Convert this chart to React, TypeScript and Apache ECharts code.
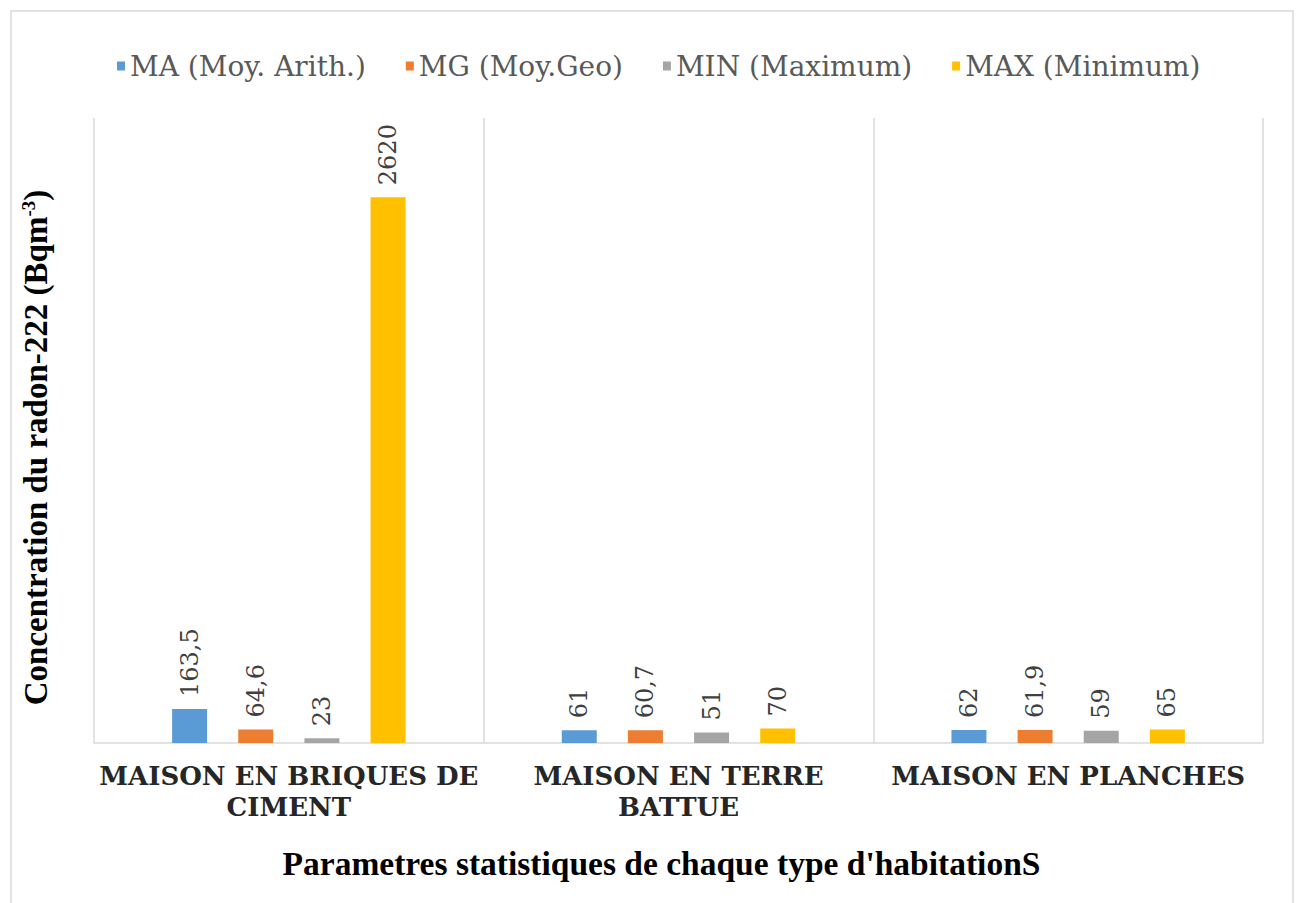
import React, { useEffect, useRef } from "react";
import * as echarts from "echarts";

const categories = [
  "MAISON EN BRIQUES DE\nCIMENT",
  "MAISON EN TERRE\nBATTUE",
  "MAISON EN PLANCHES",
];
const seriesNames = [
  "MA (Moy. Arith.)",
  "MG (Moy.Geo)",
  "MIN (Maximum)",
  "MAX (Minimum)",
];
const maValues = [163.5, 61, 62];
const mgValues = [64.6, 60.7, 61.9];
const minValues = [23, 51, 59];
const maxValues = [2620, 70, 65];
const colors = ["#5B9BD5", "#ED7D31", "#A5A5A5", "#FFC000"];
const yAxisTitle = "Concentration du radon-222 (Bqm{sup|-3})";
const xAxisTitle = "Parametres statistiques de chaque type d'habitationS";

const fmt = (v: number) => String(v).replace(".", ",");

export default function App() {
  const ref = useRef<HTMLDivElement>(null);
  useEffect(() => {
    if (!ref.current) return;
    const chart = echarts.init(ref.current, null, { renderer: "svg" });
    const serif = "Liberation Serif";
    const allValues = [maValues, mgValues, minValues, maxValues];
    chart.setOption({
      animation: false,
      backgroundColor: "#ffffff",
      color: colors,
      textStyle: { fontFamily: serif },
      graphic: [
        {
          type: "rect",
          shape: { x: 11, y: 11, width: 1282, height: 900 },
          style: { fill: "none", stroke: "#d9d9d9", lineWidth: 1.5 },
          silent: true,
        },
      ],
      legend: {
        top: 47,
        left: 112,
        itemWidth: 8,
        itemHeight: 9,
        itemGap: 40,
        icon: "rect",
        textStyle: {
          fontFamily: "DejaVu Serif",
          fontWeight: 400,
          fontSize: 28,
          color: "#595959",
        },
        data: seriesNames,
      },
      grid: { left: 94, right: 38, top: 118, bottom: 160, containLabel: false },
      xAxis: {
        type: "category",
        data: categories,
        axisLine: { lineStyle: { color: "#d9d9d9", width: 1.5 } },
        axisTick: { show: false },
        splitLine: { show: true, lineStyle: { color: "#d9d9d9", width: 1.5 } },
        axisLabel: {
          margin: 17,
          fontFamily: "DejaVu Serif",
          fontWeight: "bold",
          fontSize: 26,
          lineHeight: 31,
          color: "#262626",
          interval: 0,
        },
        name: xAxisTitle,
        nameLocation: "middle",
        nameGap: 103,
        nameTextStyle: {
          fontFamily: serif,
          fontWeight: "bold",
          fontSize: 33.5,
          color: "#000000",
          padding: [0, 34, 0, 0],
        },
      },
      yAxis: {
        type: "value",
        min: 0,
        max: 3000,
        axisLine: { show: false },
        axisTick: { show: false },
        axisLabel: { show: false },
        splitLine: { show: false },
        name: yAxisTitle,
        nameLocation: "middle",
        nameGap: 42,
        nameRotate: 90,
        nameTextStyle: {
          fontFamily: serif,
          fontWeight: "bold",
          fontSize: 33,
          color: "#000000",
          padding: [0, 34, 0, 0],
          rich: {
            sup: {
              fontFamily: serif,
              fontWeight: "bold",
              fontSize: 19,
              verticalAlign: "top",
              padding: [0, 0, 12, 0],
            },
          },
        },
      },
      series: seriesNames.map((name, i) => ({
        name,
        type: "bar",
        data: allValues[i],
        barWidth: 35,
        barGap: "89%",
        itemStyle: { color: colors[i] },
        label: {
          show: true,
          position: "top",
          rotate: 90,
          align: "left",
          verticalAlign: "middle",
          distance: 12,
          fontFamily: "DejaVu Serif",
          fontWeight: 400,
          fontSize: 24,
          color: "#404040",
          formatter: (p: any) => fmt(p.value),
        },
      })),
    });
    return () => chart.dispose();
  }, []);
  return (
    <div
      ref={ref}
      style={{ position: "fixed", left: 0, top: 0, width: 1301, height: 903 }}
    />
  );
}
